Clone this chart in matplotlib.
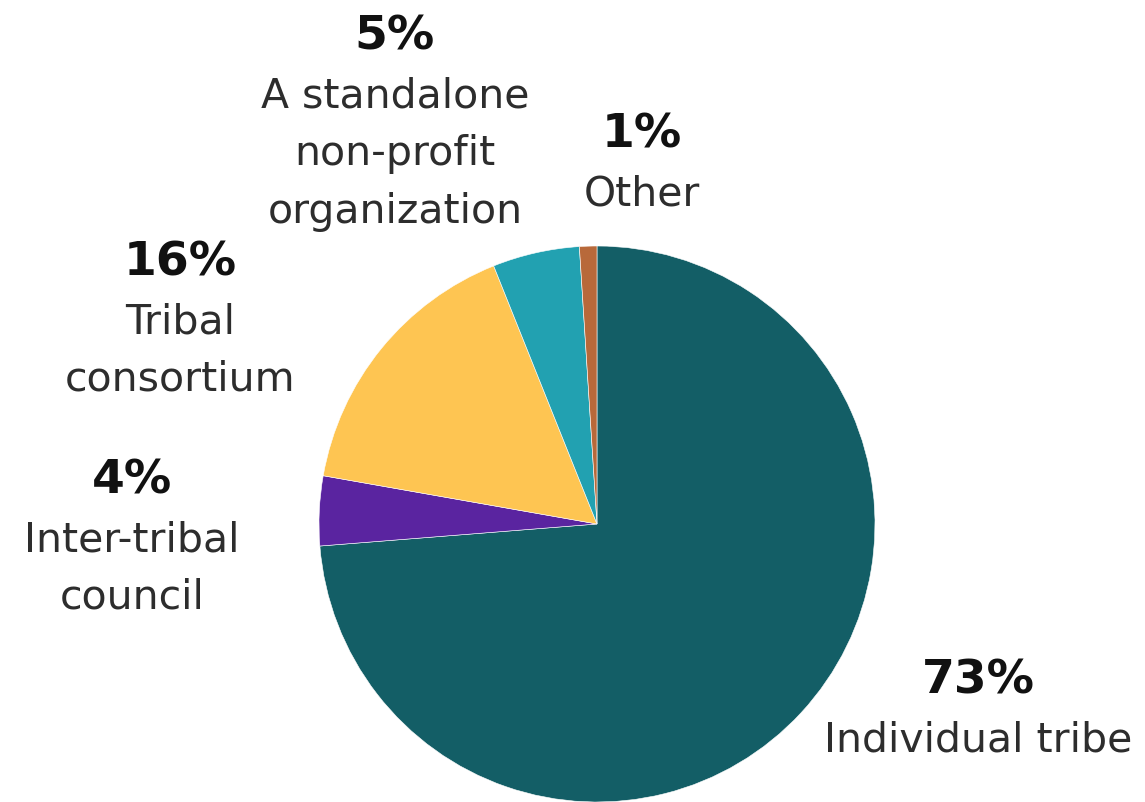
import matplotlib
matplotlib.use("Agg")
import matplotlib.pyplot as plt

categories = ["Individual tribe", "Inter-tribal\ncouncil", "Tribal\nconsortium",
              "A standalone\nnon-profit\norganization", "Other"]
values = [73, 4, 16, 5, 1]
pct_labels = ["73%", "4%", "16%", "5%", "1%"]
colors = ["#135e66", "#5a24a0", "#fec552", "#22a1b1", "#b8693a"]

W, H = 1145, 802
fig = plt.figure(figsize=(W / 100, H / 100), dpi=100)
ax = fig.add_axes([0, 0, 1, 1])

cx, cy, r = 597, H - 524, 278
ax.pie(values, colors=colors, startangle=90, counterclock=False,
       center=(cx, cy), radius=r, frame=True,
       wedgeprops=dict(linewidth=0.4, edgecolor="white"))
ax.set_xlim(0, W)
ax.set_ylim(0, H)
ax.set_aspect("equal")
ax.axis("off")

# label positions in pixel coords (top-origin): x center, baseline of percentage
label_pos = [(978, 693), (132, 493), (180, 275), (395, 50), (642, 148)]
line_gap = 57.5
for (x, y), pct, cat in zip(label_pos, pct_labels, categories):
    ax.text(x, H - y, pct, ha="center", va="baseline", fontsize=34,
            fontweight="bold", family="DejaVu Sans", color="#111111")
    for i, line in enumerate(cat.split("\n")):
        ax.text(x, H - (y + 58 + line_gap * i), line, ha="center",
                va="baseline", fontsize=29.5, family="DejaVu Sans",
                color="#2d2d2d")

fig.savefig("out.png", dpi=100, facecolor="white")
